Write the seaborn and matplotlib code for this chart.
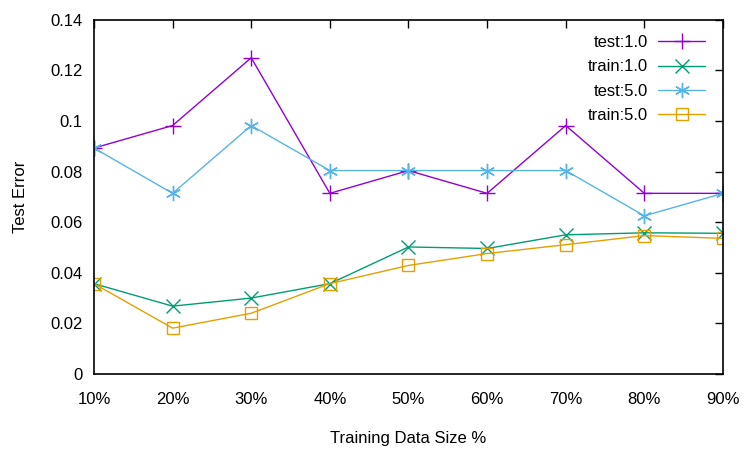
import numpy as np
import pandas as pd
import seaborn as sns
import matplotlib.pyplot as plt
from matplotlib.ticker import FuncFormatter

# training data size (%)
sizes = [10, 20, 30, 40, 50, 60, 70, 80, 90]
test_1 = [0.0893, 0.0982, 0.125, 0.0714, 0.0804, 0.0714, 0.0982, 0.0714, 0.0714]
train_1 = [0.0357, 0.0268, 0.0300, 0.0357, 0.0502, 0.0496, 0.0550, 0.0558, 0.0556]
test_5 = [0.0893, 0.0714, 0.0982, 0.0804, 0.0804, 0.0804, 0.0804, 0.0625, 0.0714]
train_5 = [0.0357, 0.0181, 0.0240, 0.0357, 0.0429, 0.0476, 0.0511, 0.0547, 0.0536]

sns.set_style("white")
plt.rcParams['font.family'] = ['Liberation Sans', 'DejaVu Sans']
plt.rcParams['text.color'] = 'black'
plt.rcParams['axes.labelcolor'] = 'black'
plt.rcParams['xtick.color'] = 'black'
plt.rcParams['ytick.color'] = 'black'

fig = plt.figure(figsize=(7.5, 4.5), dpi=100)
# plot box roughly at x 94..723, y 20..374 px
ax = fig.add_axes([0.1253, 0.169, 0.8387, 0.787])

series = [
    ("test:1.0", test_1, "#9400d3", dict(marker="+", markersize=11)),
    ("train:1.0", train_1, "#009e73", dict(marker="x", markersize=9.5)),
    ("test:5.0", test_5, "#56b4e9", dict(marker=(6, 2, 0), markersize=11)),
    ("train:5.0", train_5, "#e69f00", dict(marker="s", markersize=8.5, markerfacecolor="none")),
]

for name, vals, col, mk in series:
    df = pd.DataFrame({"size": sizes, "err": vals})
    sns.lineplot(data=df, x="size", y="err", ax=ax, color=col, label=name,
                 linewidth=1, markeredgewidth=1, markeredgecolor=col, **mk)

ax.set_xlim(10, 90)
ax.set_ylim(0, 0.14)
ax.set_xticks(sizes)
ax.set_yticks(np.arange(0, 0.141, 0.02))
ax.xaxis.set_major_formatter(FuncFormatter(lambda v, p: f"{int(round(v))}%"))
ax.yaxis.set_major_formatter(FuncFormatter(lambda v, p: f"{v:g}"))
ax.tick_params(direction="in", length=6, width=1, top=True, right=True,
               labelsize=12)
ax.tick_params(axis="x", pad=13)
ax.tick_params(axis="y", pad=8)
for s in ax.spines.values():
    s.set_linewidth(1.2)
    s.set_color("black")

ax.set_xlabel("Training Data Size %", fontsize=12, labelpad=17)
ax.set_ylabel("Test Error", fontsize=12, labelpad=16)

ax.legend(loc="upper right", frameon=False, markerfirst=False, fontsize=12,
          handlelength=2.8, handletextpad=0.6, labelspacing=0.55,
          borderaxespad=0, bbox_to_anchor=(0.982, 0.975))

fig.savefig("out.png", dpi=100)
